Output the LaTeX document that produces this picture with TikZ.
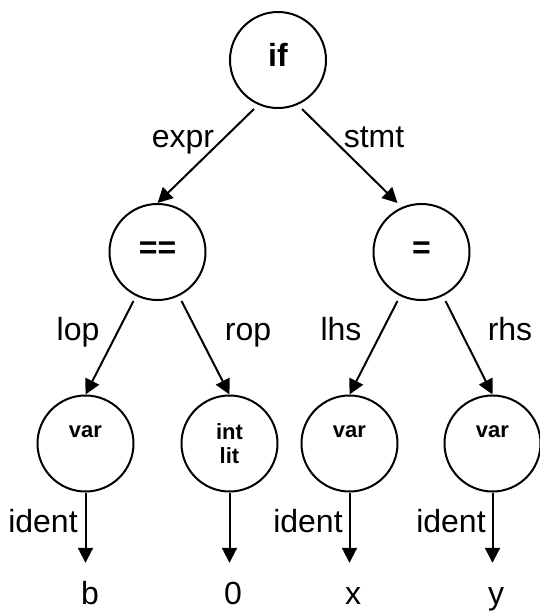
\documentclass[tikz,border=0pt]{standalone}
\usepackage{fontspec}
\setmainfont{Liberation Sans}
\usetikzlibrary{arrows.meta}
\tikzset{
  opnode/.style   = {draw,circle,line width=2pt,minimum size=96pt,inner sep=0pt,
                     font=\bfseries\fontsize{32}{38}\selectfont,text height=23pt,text depth=11pt},
  termnode/.style = {draw,circle,line width=2pt,minimum size=96pt,inner sep=0pt,
                     align=center,font=\bfseries\fontsize{22}{24}\selectfont},
  edgearr/.style  = {-{Triangle[length=15pt,width=15pt]},line width=2pt},
  edgelbl/.style  = {anchor=base,inner sep=0pt,font=\fontsize{32}{38}\selectfont},
  leaftxt/.style  = {anchor=base,inner xsep=0pt,inner ysep=19pt,text height=22pt,
                     text depth=0pt,font=\fontsize{32}{38}\selectfont}
}

\begin{document}
\begin{tikzpicture}[x=1pt,y=-1pt]
  \useasboundingbox (0,0) rectangle (540,611);
  \node[opnode] (if)  at (278,60)    {if};
  \node[opnode] (eq)  at (157.5,252) {==};
  \node[opnode] (asg) at (421.5,252) {=};
  \node[termnode] (v1) at (85.5,443.5)  {var\\\phantom{lit}};
  \node[termnode] (il) at (229.5,443.5) {int\\lit};
  \node[termnode] (v3) at (349.5,443.5) {var\\\phantom{lit}};
  \node[termnode] (v4) at (492.5,443.5) {var\\\phantom{lit}};
  \node[leaftxt] (b)    at (90,604)  {b};
  \node[leaftxt] (zero) at (233,604) {0};
  \node[leaftxt] (x)    at (353,604) {x};
  \node[leaftxt] (y)    at (496,604) {y};
  \draw[edgearr] ([xshift=-24pt]if.south) -- (eq.north);
  \draw[edgearr] ([xshift=24pt]if.south) -- ([xshift=-24pt]asg.north);
  \draw[edgearr] ([xshift=-24pt]eq.south) -- (v1.north);
  \draw[edgearr] ([xshift=24pt]eq.south) -- (il.north);
  \draw[edgearr] ([xshift=-24pt]asg.south) -- (v3.north);
  \draw[edgearr] ([xshift=24pt]asg.south) -- (v4.north);
  \draw[edgearr] (v1.south) -- (v1.south |- b.north);
  \draw[edgearr] (il.south) -- (il.south |- zero.north);
  \draw[edgearr] (v3.south) -- (v3.south |- x.north);
  \draw[edgearr] (v4.south) -- (v4.south |- y.north);
  \node[edgelbl] (lexpr) at (183,147) {expr};
  \node[edgelbl] (lstmt) at (374,147) {stmt};
  \node[edgelbl] (llop)  at (78,340)  {lop};
  \node[edgelbl] (lrop)  at (248,340) {rop};
  \node[edgelbl] (llhs)  at (341,340) {lhs};
  \node[edgelbl] (lrhs)  at (510,340) {rhs};
  \node[edgelbl] (lid1)  at (43,532)  {ident};
  \node[edgelbl] (lid3)  at (308,532) {ident};
  \node[edgelbl] (lid4)  at (451,532) {ident};
\end{tikzpicture}
\end{document}
